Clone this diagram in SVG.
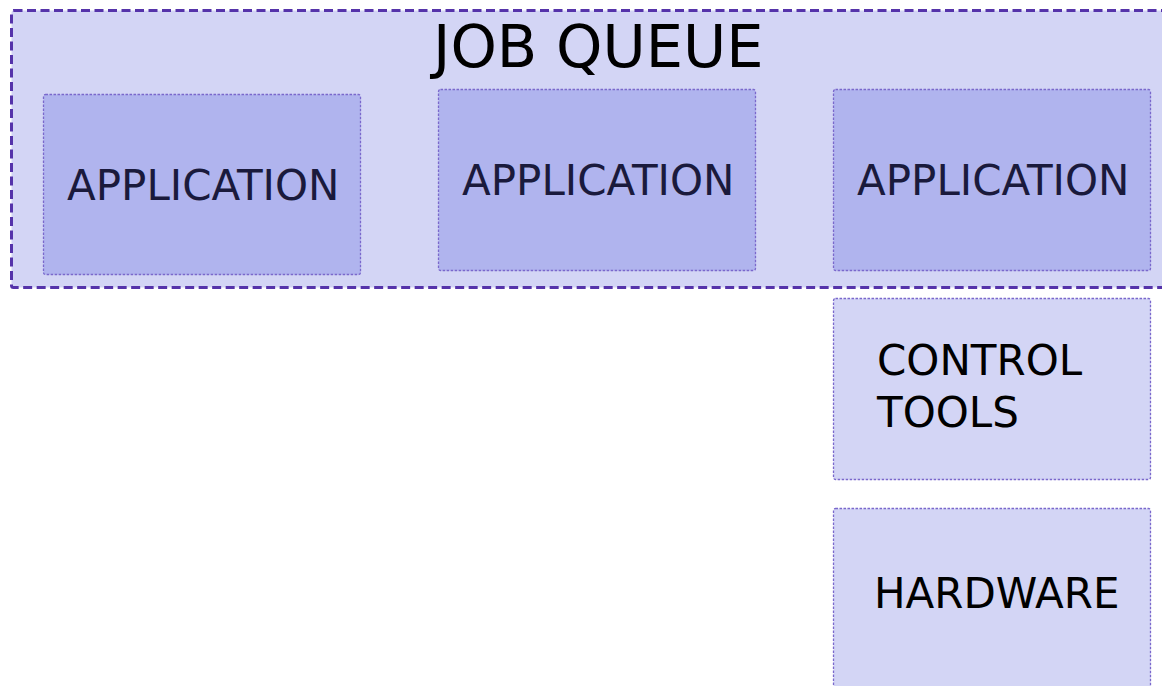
<svg xmlns="http://www.w3.org/2000/svg" width="1162" height="686" viewBox="0 0 1162 686">
<style>
.outer{fill:#d3d5f5;stroke:#5533aa;stroke-width:3;stroke-dasharray:9,4.5}
.app{fill:#b0b4ee;stroke:#7a68cc;stroke-width:1.3;stroke-dasharray:2.5,1.5}
.box{fill:#d3d5f5;stroke:#7a68cc;stroke-width:1.3;stroke-dasharray:2.5,1.5}
.t{font-family:"DejaVu Sans",sans-serif;font-size:42px}
.at{fill:#1a1a3c}
.bt{fill:#000}
</style>
<rect width="1162" height="686" fill="#fff"/>
<g id="job-queue">
<rect class="outer" x="11.5" y="10.5" width="1170" height="277" rx="2"/>
<text class="t bt" x="433" y="66.5" style="font-size:59px">JOB QUEUE</text>
</g>
<g id="app1">
<rect class="app" x="43.5" y="94.5" width="317" height="180" rx="2"/>
<text class="t at" x="67" y="200">APPLICATION</text>
</g>
<g id="app2">
<rect class="app" x="438.5" y="89.5" width="317" height="181" rx="2"/>
<text class="t at" x="462" y="195">APPLICATION</text>
</g>
<g id="app3">
<rect class="app" x="833.5" y="89.5" width="317" height="181" rx="2"/>
<text class="t at" x="857" y="195">APPLICATION</text>
</g>
<g id="control-tools">
<rect class="box" x="833.5" y="298.5" width="317" height="181" rx="2"/>
<text class="t bt" x="877" y="375">CONTROL</text>
<text class="t bt" x="877" y="427">TOOLS</text>
</g>
<g id="hardware">
<rect class="box" x="833.5" y="508.5" width="317" height="190" rx="2"/>
<text class="t bt" x="874" y="608">HARDWARE</text>
</g>
<g id="connectors"></g>
</svg>
